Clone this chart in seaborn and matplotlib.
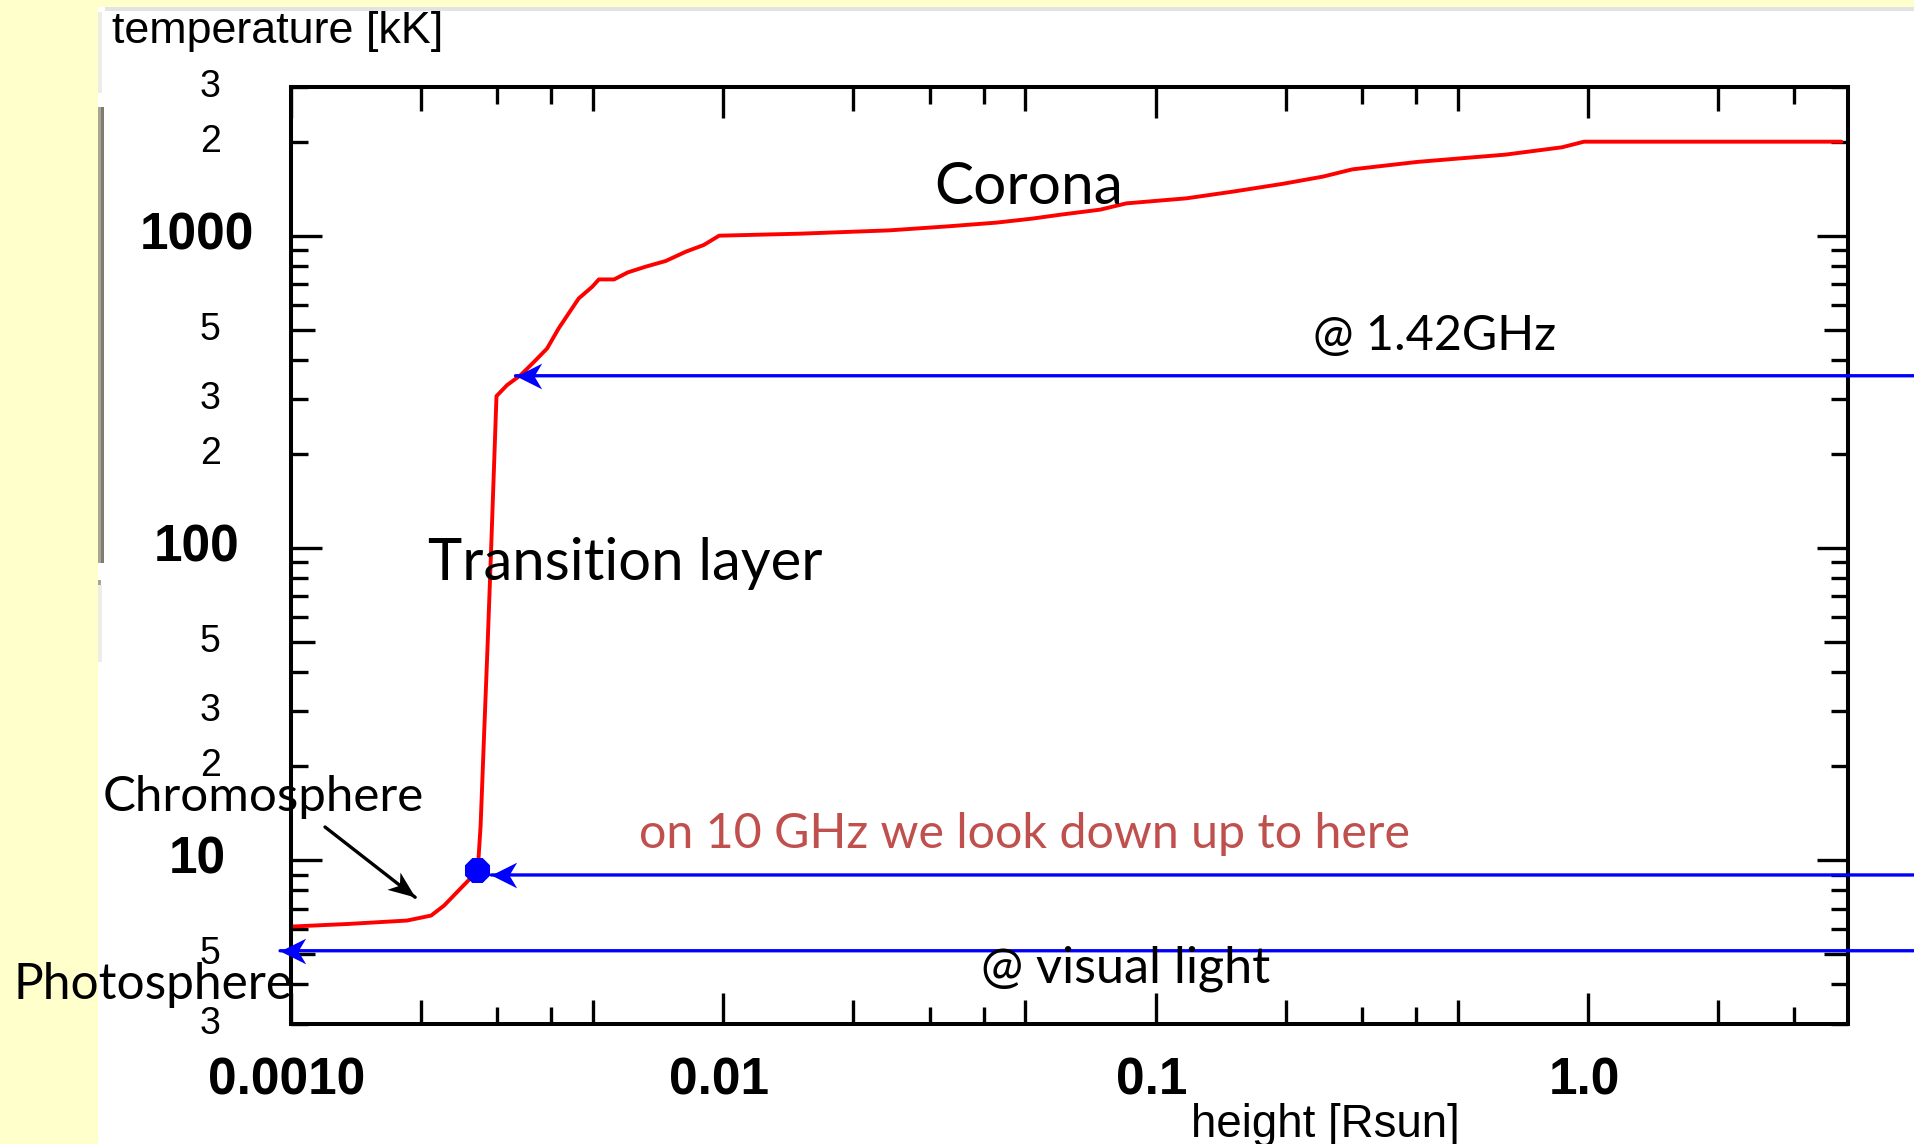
import numpy as np
import pandas as pd
import matplotlib
matplotlib.use("Agg")
import matplotlib.pyplot as plt
import seaborn as sns
from matplotlib.patches import Rectangle
from matplotlib.path import Path
from matplotlib.markers import MarkerStyle
from matplotlib.transforms import Affine2D, blended_transform_factory, ScaledTranslation
from matplotlib.ticker import NullFormatter

# ---------------- data ----------------
height = [0.001, 0.001357, 0.001858, 0.002112, 0.002263, 0.002551, 0.002707,
          0.002749, 0.002800, 0.002853, 0.002907, 0.002963, 0.002991, 0.003165,
          0.003401, 0.003654, 0.003916, 0.004164, 0.004418, 0.004634, 0.00498,
          0.005159, 0.005596, 0.006019, 0.006618, 0.007365, 0.0082, 0.009018,
          0.009788, 0.01507, 0.02421, 0.033, 0.04279, 0.05178, 0.0604, 0.07451,
          0.08553, 0.1177, 0.1509, 0.1963, 0.2437, 0.2851, 0.4031, 0.644, 0.870,
          0.978, 3.85]
temperature = [6.13, 6.25, 6.41, 6.65, 7.16, 8.50, 9.27,
               12.95, 25.2, 48.9, 99.3, 210.8, 306.4, 332.3,
               357.6, 394.6, 435.3, 504.6, 570.6, 629.5, 686.3,
               724.4, 724.4, 763, 795.7, 829.8, 888.9, 933.7,
               1000, 1015, 1040, 1071, 1101, 1134, 1168, 1212,
               1269, 1317, 1384, 1465, 1546, 1631, 1723, 1818, 1919,
               2000, 2000]

marker_height = [0.0027]
marker_temp = [9.3]

arrow_labels = ["@ 1.42GHz", "on 10 GHz we look down up to here", "@ visual light"]
arrow_temp = [356.0, 8.97, 5.13]
arrow_tip_height = [0.00331, 0.00291, 0.000945]

chromo_tip_height = [0.00194]
chromo_tip_temp = [7.61]

x_major = [0.001, 0.01, 0.1, 1.0]
x_major_labels = ["0.0010", "0.01", "0.1", "1.0"]
x_minor = [0.002, 0.003, 0.004, 0.005, 0.02, 0.03, 0.04, 0.05,
           0.2, 0.3, 0.4, 0.5, 2.0, 3.0]
y_major = [10, 100, 1000]
y_major_labels = ["10", "100", "1000"]
y_minor = [3, 4, 5, 6, 7, 8, 9, 20, 30, 40, 50, 60, 70, 80, 90,
           200, 300, 400, 500, 600, 700, 800, 900, 2000, 3000]
y_minor_labels = ["3", "", "5", "", "", "", "", "2", "3", "", "5", "", "", "", "",
                  "2", "3", "", "5", "", "", "", "", "2", "3"]

df = pd.DataFrame({"height": height, "temperature": temperature})

# ---------------- style ----------------
sns.set_theme(style="white")
plt.rcParams["font.family"] = ["Liberation Sans", "DejaVu Sans"]
plt.rcParams["text.color"] = "black"

W, H, DPI = 1915, 1144, 100
fig = plt.figure(figsize=(W / DPI, H / DPI), dpi=DPI)
fig.patch.set_facecolor("white")


def fx(px):
    return px / W


def fy(py):
    return 1 - py / H


def rect(x0, y0, x1, y1, color):
    fig.add_artist(Rectangle((fx(x0), fy(y1)), (x1 - x0) / W, (y1 - y0) / H,
                             transform=fig.transFigure, facecolor=color,
                             edgecolor="none", zorder=-10))


# background decorations (slide frame)
rect(0, 0, 98, H, "#FFFFCC")
rect(0, 0, W, 7, "#FFFFCC")
rect(105, 7, W, 11, "#E3E3E3")
rect(98, 12, 102, 93, "#EDEDE6")
rect(98, 107, 101, 563, "#A8A496")
rect(101, 107, 104, 563, "#807C6F")
rect(98, 580, 101, 585, "#A8A496")
rect(98, 585, 102, 662, "#EEEEE6")

ax = fig.add_axes([fx(290.7), fy(1023.5), (1848.5 - 290.7) / W, (1023.5 - 86.7) / H])
ax.set_facecolor("white")

sns.lineplot(data=df, x="height", y="temperature", sort=False, estimator=None,
             color="#FF0000", linewidth=2.8, ax=ax, legend=False)
sns.scatterplot(x=marker_height, y=marker_temp, marker="8", s=380,
                color="#0000FF", linewidth=0, ax=ax, zorder=6)

ax.set_xscale("log")
ax.set_yscale("log")
ax.set_xlim(0.001, 4.0)
ax.set_ylim(3, 3000)
ax.set_xlabel("")
ax.set_ylabel("")

for s in ax.spines.values():
    s.set_color("black")
    s.set_linewidth(2.9)
    s.set_visible(True)

ax.set_xticks(x_major, x_major_labels, fontsize=37, fontweight="bold")
ax.set_xticks(x_minor, minor=True)
ax.xaxis.set_minor_formatter(NullFormatter())
ax.set_yticks(y_major, y_major_labels, fontsize=37, fontweight="bold",
              ha="center", va="center")
ax.set_yticks(y_minor, y_minor_labels, minor=True, fontsize=27,
              ha="center", va="center")

LMAJ, LMED, LSHORT = 22.3, 17.3, 11.9
ax.tick_params(which="both", direction="in", top=True, right=True,
               bottom=True, left=True, width=2.4, color="black",
               labelcolor="black")
ax.tick_params(which="major", length=LMAJ)
ax.tick_params(which="minor", length=LSHORT)
ax.tick_params(axis="x", which="major", pad=24)
ax.tick_params(axis="y", which="major", pad=67.5)
ax.tick_params(axis="y", which="minor", pad=58)

# ---------------- arrows ----------------
BLUE = "#0000FF"
head_path = Path([(0, 0), (2, 1), (1.4, 0), (2, -1), (0, 0)],
                 [Path.MOVETO, Path.LINETO, Path.LINETO, Path.LINETO, Path.CLOSEPOLY])
tail_tr = blended_transform_factory(fig.transFigure, ax.transData)
for h, t in zip(arrow_tip_height, arrow_temp):
    ax.annotate("", xy=(h, t), xycoords="data", xytext=(1.0, t), textcoords=tail_tr,
                arrowprops=dict(arrowstyle="-", color=BLUE, lw=2.4,
                                shrinkA=0, shrinkB=0),
                annotation_clip=False, zorder=4)
ax.scatter(arrow_tip_height, arrow_temp, marker=MarkerStyle(head_path), s=37 ** 2,
           color=BLUE, linewidths=0, clip_on=False, zorder=5)

black_path = Path([(0, 0), (2, 0.8), (1.45, 0), (2, -0.8), (0, 0)],
                  [Path.MOVETO, Path.LINETO, Path.LINETO, Path.LINETO, Path.CLOSEPOLY])
ax.annotate("", xy=(chromo_tip_height[0], chromo_tip_temp[0]), xycoords="data",
            xytext=(325, H - 827), textcoords="figure pixels",
            arrowprops=dict(arrowstyle="-", color="black", lw=2.4, shrinkA=0, shrinkB=0),
            annotation_clip=False, zorder=4)
ax.scatter(chromo_tip_height, chromo_tip_temp,
           marker=MarkerStyle(black_path, transform=Affine2D().rotate_deg(142.9)),
           s=38.9 ** 2, color="black", linewidths=0, clip_on=False, zorder=5)

# ---------------- texts ----------------
LATO = ["Lato", "DejaVu Sans"]
fig.text(fx(112), fy(43), "temperature [kK]", fontsize=32.3, ha="left", va="baseline",
         color="black")
fig.text(fx(1191), fy(1137), "height [Rsun]", fontsize=32.9, ha="left", va="baseline",
         color="black")
fig.text(fx(934), fy(204), "Corona", fontsize=42.2, family=LATO, va="baseline",
         color="black")
fig.text(fx(427.7), fy(580), "Transition layer", fontsize=41.8, family=LATO,
         va="baseline", color="black")
fig.text(fx(102.7), fy(811), "Chromosphere", fontsize=35.5, family=LATO, va="baseline",
         color="black")
fig.text(fx(13), fy(999), "Photosphere", fontsize=35.7, family=LATO, va="baseline",
         color="black")
fig.text(fx(1313.5), fy(350), arrow_labels[0], fontsize=34.9, family=LATO,
         va="baseline", color="black")
fig.text(fx(639), fy(848), arrow_labels[1], fontsize=34.8, family=LATO, va="baseline",
         color="#C0504D")
fig.text(fx(981), fy(983), arrow_labels[2], fontsize=36.3, family=LATO, va="baseline",
         color="black")

# ---------------- per-tick lengths ----------------
fig.canvas.draw()
for tick in ax.xaxis.get_minor_ticks():
    loc = tick.get_loc()
    if loc is None:
        continue
    m = int(round(loc / 10 ** np.floor(np.log10(loc))))
    L = LMED if m in (2, 5) else LSHORT
    tick.tick1line.set_markersize(L)
    tick.tick2line.set_markersize(L)
for tick in ax.yaxis.get_minor_ticks():
    loc = tick.get_loc()
    if loc is None:
        continue
    m = int(round(loc / 10 ** np.floor(np.log10(loc))))
    L = LMED if m == 5 else LSHORT
    tick.tick1line.set_markersize(L)
    tick.tick2line.set_markersize(L)
shift = ScaledTranslation(-3.0 / 72, 0, fig.dpi_scale_trans)
for lab in ax.get_xticklabels():
    lab.set_transform(lab.get_transform() + shift)

fig.savefig("out.png", dpi=DPI)
